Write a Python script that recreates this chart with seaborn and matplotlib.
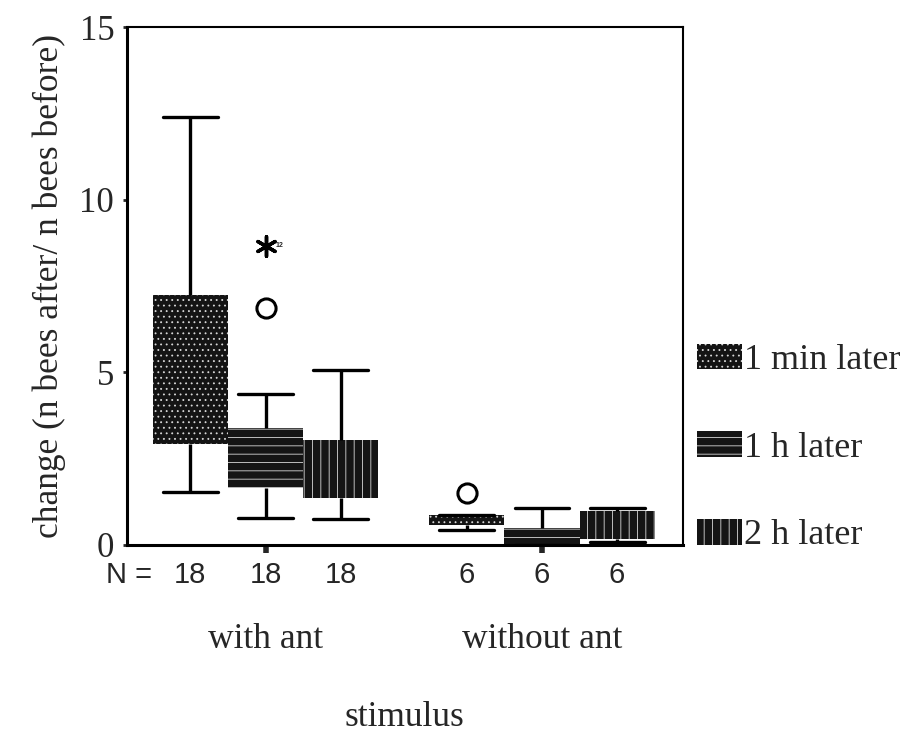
import numpy as np
import pandas as pd
import matplotlib
matplotlib.use("Agg")
import matplotlib.pyplot as plt
from matplotlib.patches import Patch
import seaborn as sns

# ---- data ----
stimuli = ["with ant", "without ant"]
times = ["1 min later", "1 h later", "2 h later"]
n_per_box = [18, 18, 18, 6, 6, 6]
# five-number summaries per box: [lower whisker, Q1, median, Q3, upper whisker]
with_ant_1min = [1.54, 2.93, 4.70, 7.25, 12.40]
with_ant_1h = [0.79, 1.65, 2.40, 3.39, 4.37]
with_ant_2h = [0.74, 1.36, 2.10, 3.05, 5.06]
without_ant_1min = [0.43, 0.58, 0.72, 0.86, 0.86]
without_ant_1h = [0.00, 0.00, 0.15, 0.49, 1.07]
without_ant_2h = [0.09, 0.17, 0.60, 0.98, 1.07]
# outliers
outlier_stim = ["with ant", "without ant"]
outlier_time = ["1 h later", "1 min later"]
outlier_vals = [6.87, 1.50]
extreme_stim = ["with ant"]
extreme_time = ["1 h later"]
extreme_vals = [8.67]
extreme_case = ["12"]
yticks = [0, 5, 10, 15]

boxes = {
    ("with ant", "1 min later"): with_ant_1min,
    ("with ant", "1 h later"): with_ant_1h,
    ("with ant", "2 h later"): with_ant_2h,
    ("without ant", "1 min later"): without_ant_1min,
    ("without ant", "1 h later"): without_ant_1h,
    ("without ant", "2 h later"): without_ant_2h,
}
rows = []
for (s, t), vals in boxes.items():
    for v in vals:
        rows.append({"stimulus": s, "time": t, "value": v})
df = pd.DataFrame(rows)

SERIF = ["Liberation Serif", "DejaVu Serif"]
SANS = ["Liberation Sans", "DejaVu Sans"]
sns.set_style("white")
plt.rcParams["font.family"] = SERIF
plt.rcParams["hatch.linewidth"] = 0.6

fig = plt.figure(figsize=(9.04, 7.33), dpi=100)
ax = fig.add_axes([0.1402, 0.2565, 0.615, 0.7066])

fill = "#141414"
width = 0.815
sns.boxplot(data=df, x="stimulus", y="value", hue="time", order=stimuli,
            hue_order=times, palette=[fill] * 3, width=width, gap=0,
            whis=(0, 100), showfliers=False, linecolor="black", linewidth=2.4,
            saturation=1, legend=False, medianprops={"visible": False}, ax=ax)

hatches = ["...", "--", "||"]
box_patches = [p for p in ax.patches]
for i, p in enumerate(box_patches):
    h = hatches[i // len(stimuli)]
    p.set_hatch(h)
    p.set_edgecolor("#d8d8d8")
    p.set_linewidth(0)
    p.set_facecolor(fill)

# widen the whisker caps (reference caps ~0.73 of box width)
for ln in ax.lines:
    if not ln.get_visible():
        continue
    xd = np.asarray(ln.get_xdata(), dtype=float)
    yd = np.asarray(ln.get_ydata(), dtype=float)
    if len(xd) == 2 and yd[0] == yd[1] and xd[0] != xd[1]:
        c = xd.mean()
        ln.set_xdata(c + (xd - c) * 1.46)

bw = width / len(times)

def box_x(stim, tm):
    return stimuli.index(stim) + (times.index(tm) - 1) * bw

# outliers
ox = [box_x(s, t) for s, t in zip(outlier_stim, outlier_time)]
sns.scatterplot(x=ox, y=outlier_vals, marker="o", s=190, facecolor="white",
                edgecolor="black", linewidth=2.2, ax=ax, zorder=5)
ex = [box_x(s, t) for s, t in zip(extreme_stim, extreme_time)]
sns.scatterplot(x=ex, y=extreme_vals, marker=(6, 2, 0), s=200, color="black",
                linewidth=2.5, ax=ax, zorder=5)
for x, y, c in zip(ex, extreme_vals, extreme_case):
    ax.text(x + 0.035, y, c, fontsize=5, va="center", ha="left",
            family=SANS, fontweight="bold")

ax.set_xlim(-0.502, 1.509)
ax.set_ylim(0, 15)
ax.set_yticks(yticks)
ax.set_yticklabels([str(v) for v in yticks], fontsize=25)
ax.set_xticks([0, 1])
ax.set_xticklabels([])
ax.tick_params(axis="y", direction="out", length=3, width=2, pad=6, left=True)
ax.tick_params(axis="x", direction="out", length=6, width=4, bottom=True)
for side in ["left", "bottom"]:
    ax.spines[side].set_linewidth(2.2)
    ax.spines[side].set_color("black")
for side in ["top", "right"]:
    ax.spines[side].set_linewidth(1.5)
    ax.spines[side].set_color("black")
ax.set_xlabel("")
ax.set_ylabel("change (n bees after/ n bees before)", fontsize=25.5, labelpad=10)

# N = row
trans = ax.get_xaxis_transform()
ax.text(-0.495, -0.057, "N =", transform=trans, fontsize=21, family=SANS,
        ha="center", va="center")
k = 0
for s in stimuli:
    for t in times:
        ax.text(box_x(s, t), -0.057, str(n_per_box[k]), transform=trans,
                fontsize=21, family=SANS, ha="center", va="center")
        k += 1
for i, s in enumerate(stimuli):
    ax.text(i, -0.183, s, transform=trans, fontsize=25.5, ha="center", va="center")
fig.text(0.4475, 1 - 718 / 733, "stimulus", fontsize=25.5, ha="center", va="center")

handles = [Patch(facecolor=fill, edgecolor="#d8d8d8", linewidth=0, hatch=h)
           for h in hatches]
fig.legend(handles, times, loc="center left",
           bbox_to_anchor=(0.771, 1 - 448 / 733), frameon=False, fontsize=26,
           handlelength=1.25, handleheight=0.72, handletextpad=0.05,
           labelspacing=1.5, borderaxespad=0, borderpad=0)

fig.savefig("out.png", dpi=100)
